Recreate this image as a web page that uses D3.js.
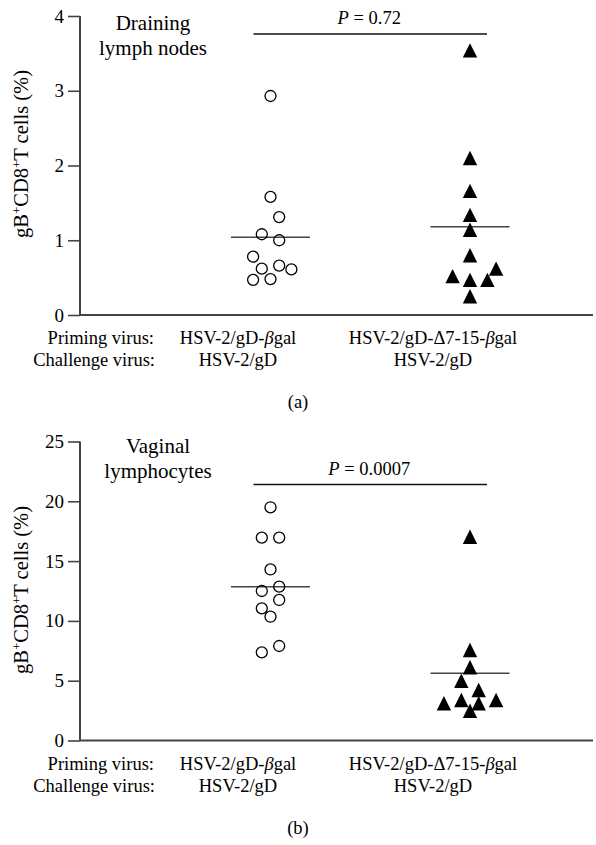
<!DOCTYPE html>
<html>
<head>
<meta charset="utf-8">
<script src="https://cdn.jsdelivr.net/npm/d3@7"></script>
<style>
  body { margin: 0; background: #fff; }
  svg text { font-family: "Liberation Serif", "DejaVu Serif", serif; fill: #000; }
</style>
</head>
<body>
<div id="chart"></div>
<script>
// groups (priming virus) and the shared challenge virus
var primingLabels = ["HSV-2/gD-\u03b2gal", "HSV-2/gD-\u03947-15-\u03b2gal"];
var challengeLabels = ["HSV-2/gD", "HSV-2/gD"];

// (a) draining lymph nodes, % gB+CD8+ T cells
var lnCircles = [2.93, 1.58, 1.31, 1.08, 1.00, 0.78, 0.66, 0.62, 0.61, 0.48, 0.47];
var lnCircleSlot = [0, 0, 1, -1, 1, -2, 1, -1, 2.4, 0, -2];
var lnTriangles = [3.54, 2.10, 1.66, 1.34, 1.14, 0.80, 0.52, 0.47, 0.47, 0.62, 0.25];
var lnTriangleSlot = [0, 0, 0, 0, 0, 0, -2, 0, 2, 3, 0];
var lnMedians = [1.04, 1.18];
var lnTicks = [0, 1, 2, 3, 4];

// (b) vaginal lymphocytes
var vagCircles = [19.5, 16.96, 16.96, 14.3, 12.5, 12.86, 11.75, 11.05, 10.35, 7.37, 7.9];
var vagCircleSlot = [0, -1, 1, 0, -1, 1, 1, -1, 0, -1, 1];
var vagTriangles = [17.04, 7.57, 6.12, 5.0, 4.22, 3.11, 3.39, 3.11, 3.39, 2.49];
var vagTriangleSlot = [0, 0, 0, -1, 1, -3, -1, 1, 3, 0];
var vagMedians = [12.86, 5.62];
var vagTicks = [0, 5, 10, 15, 20, 25];

var width = 596, height = 845;
var axisColor = "#444";
var fs = 18.5;

var svg = d3.select("#chart").append("svg")
    .attr("width", width)
    .attr("height", height);

var x = d3.scalePoint()
    .domain([0, 1])
    .range([270.5, 470]);

// jitter slot -> pixel offset
var slot = d3.scaleLinear().domain([0, 1]).range([0, 8.7]);

function trianglePath(cx, cy){
    var h = 7.2;
    return "M" + cx + "," + (cy - h) + "L" + (cx + h) + "," + (cy + h) + "L" + (cx - h) + "," + (cy + h) + "Z";
}

function drawPanel(opt){
    var g = svg.append("g");
    var y = d3.scaleLinear().domain(opt.domain).range(opt.range);

    // y axis
    var yAxis = d3.axisLeft(y).tickValues(opt.ticks).tickFormat(d3.format("d"))
        .tickSize(12).tickPadding(4);
    var ga = g.append("g").attr("transform", "translate(80,0)").call(yAxis);
    ga.select(".domain").attr("d", "M0," + y(opt.domain[1]) + "V" + y(0))
        .attr("stroke", axisColor).attr("stroke-width", 2);
    ga.selectAll(".tick line").attr("stroke", axisColor).attr("stroke-width", 1.6);
    ga.selectAll(".tick text")
        .attr("font-size", 19)
        .attr("font-family", "Liberation Serif")
        .attr("fill", "#000");

    // x baseline
    g.append("line")
        .attr("x1", 80).attr("x2", 593)
        .attr("y1", y(0)).attr("y2", y(0))
        .attr("stroke", axisColor).attr("stroke-width", 2);

    // y title
    var t = g.append("text")
        .attr("transform", "translate(28," + opt.titleY + ") rotate(-90)")
        .attr("text-anchor", "middle")
        .attr("font-size", 20.5);
    t.append("tspan").text("gB");
    t.append("tspan").attr("dy", -7).attr("font-size", 13).text("+");
    t.append("tspan").attr("dy", 7).text("CD8");
    t.append("tspan").attr("dy", -7).attr("font-size", 13).text("+");
    t.append("tspan").attr("dy", 7).text("T cells (%)");

    // panel label
    g.selectAll(".plabel").data(opt.label).enter().append("text")
        .attr("x", opt.labelX)
        .attr("y", function(d, i){ return opt.labelY + i * 25; })
        .attr("text-anchor", "middle")
        .attr("font-size", 21)
        .text(function(d){ return d; });

    // medians
    g.selectAll(".median").data(opt.medians).enter().append("line")
        .attr("x1", function(d, i){ return x(i) - 39.5; })
        .attr("x2", function(d, i){ return x(i) + 39.5; })
        .attr("y1", function(d){ return y(d); })
        .attr("y2", function(d){ return y(d); })
        .attr("stroke", axisColor).attr("stroke-width", 1.6);

    // open circles
    g.selectAll(".circ").data(opt.circles).enter().append("circle")
        .attr("cx", function(d, i){ return x(0) + slot(opt.circleSlot[i]); })
        .attr("cy", function(d){ return y(d); })
        .attr("r", 5.5)
        .attr("fill", "none")
        .attr("stroke", "#000")
        .attr("stroke-width", 1.3);

    // filled triangles
    g.selectAll(".tri").data(opt.triangles).enter().append("path")
        .attr("d", function(d, i){ return trianglePath(x(1) + slot(opt.triangleSlot[i]), y(d)); })
        .attr("fill", "#000");

    // P-value bar
    g.append("line")
        .attr("x1", x(0) - 17).attr("x2", x(1) + 17)
        .attr("y1", y(opt.pBar)).attr("y2", y(opt.pBar))
        .attr("stroke", "#111").attr("stroke-width", 1.4);
    var pt = g.append("text")
        .attr("x", (x(0) + x(1)) / 2 - 1)
        .attr("y", y(opt.pBar) - 10)
        .attr("text-anchor", "middle")
        .attr("font-size", fs);
    pt.append("tspan").attr("font-style", "italic").text("P");
    pt.append("tspan").text(" = " + opt.pText);

    // category labels
    var base = y(0);
    g.append("text").attr("x", 154).attr("y", base + 29).attr("text-anchor", "end")
        .attr("font-size", fs).text("Priming virus:");
    g.append("text").attr("x", 155).attr("y", base + 51).attr("text-anchor", "end")
        .attr("font-size", fs).text("Challenge virus:");
    var catX = [238, 433];
    g.selectAll(".prime").data(primingLabels).enter().append("text")
        .attr("x", function(d, i){ return catX[i]; })
        .attr("y", base + 29)
        .attr("text-anchor", "middle")
        .attr("font-size", fs)
        .each(function(d){
            var el = d3.select(this);
            var parts = d.split("\u03b2");
            el.append("tspan").text(parts[0]);
            el.append("tspan").attr("font-style", "italic").text("\u03b2");
            el.append("tspan").text(parts[1]);
        });
    g.selectAll(".chal").data(challengeLabels).enter().append("text")
        .attr("x", function(d, i){ return catX[i]; })
        .attr("y", base + 51)
        .attr("text-anchor", "middle")
        .attr("font-size", fs)
        .text(function(d){ return d; });

    g.append("text").attr("x", 298).attr("y", base + 93)
        .attr("text-anchor", "middle").attr("font-size", fs).text(opt.tag);
}

drawPanel({
    domain: [0, 4], range: [315, 16], ticks: lnTicks,
    circles: lnCircles, circleSlot: lnCircleSlot,
    triangles: lnTriangles, triangleSlot: lnTriangleSlot,
    medians: lnMedians, pBar: 3.76, pText: "0.72",
    label: ["Draining", "lymph nodes"], labelX: 153, labelY: 30,
    titleY: 154, tag: "(a)"
});

drawPanel({
    domain: [0, 25], range: [740.5, 441.5], ticks: vagTicks,
    circles: vagCircles, circleSlot: vagCircleSlot,
    triangles: vagTriangles, triangleSlot: vagTriangleSlot,
    medians: vagMedians, pBar: 21.4, pText: "0.0007",
    label: ["Vaginal", "lymphocytes"], labelX: 158, labelY: 453,
    titleY: 590, tag: "(b)"
});
</script>
</body>
</html>
